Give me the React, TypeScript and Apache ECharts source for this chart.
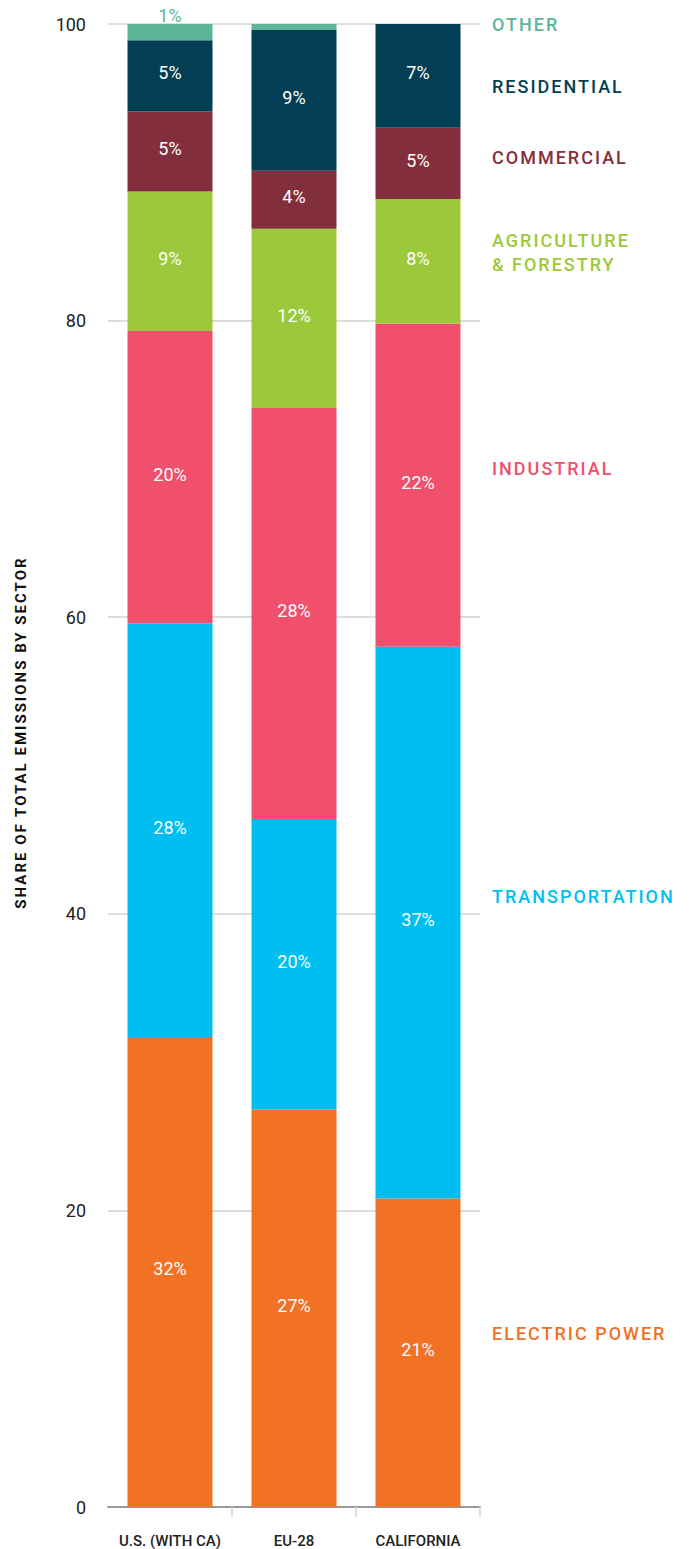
import React, { useEffect, useRef } from "react";
import * as echarts from "echarts";

const categories = ["U.S. (WITH CA)", "EU-28", "CALIFORNIA"];
const yTicks = [0, 20, 40, 60, 80, 100];

const sectorNames = ["ELECTRIC POWER", "TRANSPORTATION", "INDUSTRIAL", "AGRICULTURE\n& FORESTRY", "COMMERCIAL", "RESIDENTIAL", "OTHER"];
const sectorColors = ["#f17125", "#00bff0", "#f0506c", "#9cc93b", "#832e3c", "#023f55", "#5bb598"];

const electricPower = [31.7, 26.8, 20.8];
const transportation = [27.9, 19.6, 37.2];
const industrial = [19.7, 27.7, 21.8];
const agriculture = [9.4, 12.1, 8.4];
const commercial = [5.4, 3.9, 4.8];
const residential = [4.8, 9.5, 7.0];
const other = [1.1, 0.4, 0];

const electricLabels = ["32%", "27%", "21%"];
const transportLabels = ["28%", "20%", "37%"];
const industrialLabels = ["20%", "28%", "22%"];
const agricultureLabels = ["9%", "12%", "8%"];
const commercialLabels = ["5%", "4%", "5%"];
const residentialLabels = ["5%", "9%", "7%"];
const otherLabels = ["1%", "", ""];

// value on the y scale beside which each sector name sits
const legendY = [11.7, 41.2, 70.0, 84.6, 91.0, 95.8, 100];

const seriesValues = [electricPower, transportation, industrial, agriculture, commercial, residential, other];
const seriesLabels = [electricLabels, transportLabels, industrialLabels, agricultureLabels, commercialLabels, residentialLabels, otherLabels];

const FONT = "Roboto, 'Noto Sans', sans-serif";
const TITLE = "SHARE OF TOTAL EMISSIONS BY SECTOR";

export default function App() {
  const ref = useRef<HTMLDivElement>(null);
  useEffect(() => {
    const chart = echarts.init(ref.current!, null, { renderer: "svg" });
    const gridTop = 24;
    const gridBottom = 42;
    const H = 1549;
    const plotH = H - gridTop - gridBottom;
    const series: any[] = seriesValues.map((vals, si) => ({
      type: "bar",
      name: sectorNames[si],
      stack: "total",
      barWidth: 85,
      itemStyle: { color: sectorColors[si] },
      data: vals.map((v, i) => {
        const txt = seriesLabels[si][i];
        const isOtherTop = si === 6;
        return {
          value: v,
          label: {
            show: txt !== "",
            formatter: txt,
            position: isOtherTop ? "top" : "inside",
            distance: 0,
            offset: isOtherTop ? [0, 0] : [0, -3],
            color: isOtherTop ? sectorColors[6] : "#ffffff",
            fontSize: 18,
            fontFamily: FONT,
          },
        };
      }),
    }));
    const graphics: any[] = sectorNames.map((n, si) => ({
      type: "text",
      x: 492,
      y: gridTop + ((100 - legendY[si]) / 100) * plotH,
      style: {
        text: n,
        fill: sectorColors[si],
        fontSize: 18,
        fontWeight: 500,
        fontFamily: FONT,
        lineHeight: 24,
        verticalAlign: "middle",
        align: "left",
      },
    }));
    chart.setOption({
      animation: false,
      grid: { left: 108, right: 209, top: gridTop, bottom: gridBottom },
      xAxis: {
        type: "category",
        data: categories,
        axisLine: { show: true, lineStyle: { color: "#999", width: 2 } },
        axisTick: { show: true, interval: (i: number) => i !== 0, length: 10, lineStyle: { color: "#ddd", width: 2 } },
        axisLabel: { interval: 0, color: "#222", fontSize: 15, fontWeight: 500, fontFamily: FONT, margin: 26 },
      },
      yAxis: {
        type: "value",
        min: 0,
        max: 100,
        interval: 20,
        name: TITLE,
        nameLocation: "middle",
        nameRotate: 90,
        nameGap: 80,
        nameTextStyle: { color: "#111", fontSize: 15, fontWeight: "bold", fontFamily: FONT, padding: [0, 0, 0, 66] },
        axisLine: { show: false },
        axisTick: { show: false },
        axisLabel: { color: "#222", fontSize: 18, fontFamily: FONT, margin: 22, formatter: (v: number) => (yTicks.includes(v) ? String(v) : "") },
        splitLine: { show: true, lineStyle: { color: "#dddddd", width: 2 } },
      },
      series,
      graphic: graphics,
    });
    const spaced: Record<string, string> = { [TITLE]: "2px" };
    sectorNames.forEach((n) => n.split("\n").forEach((p) => (spaced[p] = "2px")));
    ref.current!.querySelectorAll("text").forEach((t) => {
      const s = (t.textContent || "").trim();
      if (spaced[s]) t.setAttribute("letter-spacing", spaced[s]);
      t.querySelectorAll("tspan").forEach((ts) => {
        const s2 = (ts.textContent || "").trim();
        if (spaced[s2]) t.setAttribute("letter-spacing", spaced[s2]);
      });
    });
    return () => chart.dispose();
  }, []);
  return <div ref={ref} style={{ width: 689, height: 1549, position: "absolute", left: 0, top: 0 }} />;
}
